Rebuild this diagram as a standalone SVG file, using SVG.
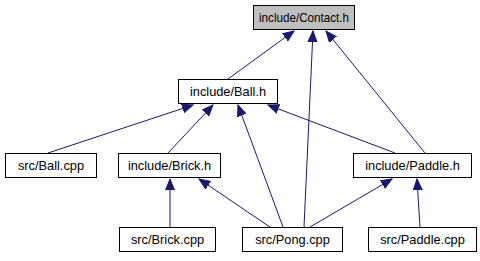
<svg xmlns="http://www.w3.org/2000/svg" width="480" height="261" viewBox="0 0 480 261">
  <style>
    .node rect { fill: #ffffff; stroke: #000000; stroke-width: 1; }
    .node.root rect { fill: #bfbfbf; }
    .node text { font-family: "Liberation Sans", Arial, Helvetica, sans-serif; font-size: 12.8px; fill: #000000; text-anchor: middle; }
    .edge { stroke: #191970; stroke-width: 1; fill: none; marker-end: url(#arrow); }
  </style>
  <defs>
    <marker id="arrow" markerUnits="userSpaceOnUse" markerWidth="12" markerHeight="10" refX="11" refY="5" orient="auto">
      <path d="M0,0.5 L11,5 L0,9.5 Z" fill="#191970" stroke="#191970" stroke-width="1"/>
    </marker>
  </defs>

  <rect width="480" height="261" fill="#ffffff"/>

  <g id="edges">
    <!-- into include/Contact.h -->
    <line class="edge" x1="228" y1="79" x2="294" y2="31"/>
    <line class="edge" x1="304" y1="227" x2="313" y2="31"/>
    <line class="edge" x1="425" y1="153" x2="326" y2="31"/>
    <!-- into include/Ball.h -->
    <line class="edge" x1="48" y1="153" x2="193" y2="105"/>
    <line class="edge" x1="168" y1="153" x2="213" y2="105"/>
    <line class="edge" x1="283" y1="227" x2="238" y2="105"/>
    <line class="edge" x1="395" y1="153" x2="268" y2="105"/>
    <!-- into include/Brick.h -->
    <line class="edge" x1="170" y1="227" x2="170" y2="179"/>
    <line class="edge" x1="270" y1="227" x2="199" y2="179"/>
    <!-- into include/Paddle.h -->
    <line class="edge" x1="310" y1="227" x2="392" y2="179"/>
    <line class="edge" x1="420" y1="227" x2="417" y2="179"/>
  </g>

  <g id="node-contact-h" class="node root">
    <rect x="253.5" y="5.5" width="101" height="24"/>
    <text x="304" y="22" textLength="90" lengthAdjust="spacingAndGlyphs">include/Contact.h</text>
  </g>
  <g id="node-ball-h" class="node">
    <rect x="178.5" y="79.5" width="99" height="24"/>
    <text x="228" y="96">include/Ball.h</text>
  </g>
  <g id="node-ball-cpp" class="node">
    <rect x="5.5" y="153.5" width="91" height="24"/>
    <text x="51" y="170">src/Ball.cpp</text>
  </g>
  <g id="node-brick-h" class="node">
    <rect x="118.5" y="153.5" width="102" height="24"/>
    <text x="169.5" y="170">include/Brick.h</text>
  </g>
  <g id="node-paddle-h" class="node">
    <rect x="353.5" y="153.5" width="118" height="24"/>
    <text x="412.5" y="170">include/Paddle.h</text>
  </g>
  <g id="node-brick-cpp" class="node">
    <rect x="119.5" y="227.5" width="96" height="24"/>
    <text x="167.5" y="244">src/Brick.cpp</text>
  </g>
  <g id="node-pong-cpp" class="node">
    <rect x="242.5" y="227.5" width="100" height="24"/>
    <text x="292.5" y="244">src/Pong.cpp</text>
  </g>
  <g id="node-paddle-cpp" class="node">
    <rect x="368.5" y="227.5" width="108" height="24"/>
    <text x="422.5" y="244">src/Paddle.cpp</text>
  </g>
</svg>
